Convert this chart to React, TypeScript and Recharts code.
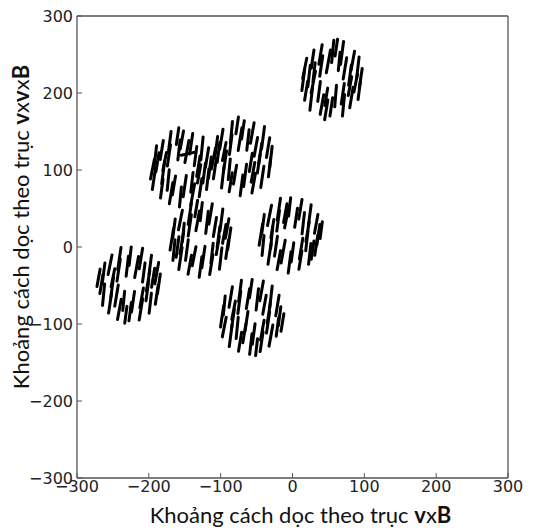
import { ScatterChart, XAxis, YAxis, ReferenceLine } from 'recharts'

const xTicks = [-300, -200, -100, 0, 100, 200, 300]
const yTicks = [-300, -200, -100, 0, 100, 200, 300]

// each vector: [x, y, tilt from vertical in degrees (+ = top leans right), length]
const clusterA = [
  [80, 223, 8, 26], [73, 232, 10, 28], [65, 241, 6, 24], [50, 241, 11, 30],
  [40, 235, 9, 27], [30, 227, 7, 25], [29, 214, 12, 29], [37, 202, 8, 26],
  [47, 195, 10, 23], [60, 196, 5, 28], [70, 199, 9, 27], [80, 209, 11, 25],
  [95, 219, 9, 26], [91, 233, 7, 28], [84, 242, 11, 25], [69, 252, 8, 30],
  [56, 254, 6, 29], [39, 250, 10, 26], [28, 244, 9, 24], [17, 232, 12, 27],
  [15, 217, 8, 28], [19, 203, 10, 25], [26, 192, 7, 29], [41, 185, 11, 26],
  [54, 182, 9, 24], [71, 184, 6, 28], [82, 194, 10, 27], [93, 204, 8, 25],
  [88, 213, 12, 24], [23, 222, 7, 28], [61, 259, 9, 22], [47, 178, 10, 26],
]

const clusterB = [
  [-131, 105, 10, 27], [-135, 118, 8, 25], [-147, 124, 11, 29], [-158, 126, 7, 26],
  [-172, 119, 9, 28], [-178, 111, 12, 24], [-180, 97, 8, 30], [-173, 87, 6, 27],
  [-165, 80, 10, 25], [-150, 79, 9, 28], [-140, 84, 7, 26], [-130, 95, 11, 24],
  [-115, 103, 8, 28], [-119, 116, 10, 26], [-126, 128, 6, 30], [-141, 134, 9, 27],
  [-154, 139, 11, 24], [-171, 136, 8, 28], [-182, 126, 10, 25], [-191, 117, 7, 29],
  [-195, 101, 12, 26], [-193, 88, 9, 27], [-182, 76, 8, 25], [-169, 70, 10, 28],
  [-156, 65, 6, 26], [-139, 68, 11, 29], [-128, 77, 9, 24], [-118, 88, 7, 27],
  [-146, 121, 78, 18], [-188, 110, 10, 25], [-123, 96, 8, 26], [-160, 144, 9, 22],
]

const clusterC = [
  [-45, 121, 9, 28], [-51, 130, 11, 25], [-62, 139, 7, 27], [-73, 140, 10, 30],
  [-86, 133, 8, 26], [-95, 124, 12, 24], [-94, 111, 9, 28], [-88, 101, 6, 27],
  [-80, 94, 10, 25], [-66, 93, 8, 29], [-55, 97, 11, 26], [-47, 108, 9, 24],
  [-30, 117, 7, 28], [-34, 129, 10, 26], [-41, 142, 8, 29], [-56, 148, 11, 27],
  [-69, 152, 9, 24], [-85, 149, 6, 28], [-99, 140, 10, 26], [-106, 131, 8, 25],
  [-110, 115, 12, 28], [-108, 102, 9, 27], [-97, 91, 7, 29], [-86, 84, 10, 25],
  [-71, 80, 8, 27], [-54, 83, 11, 26], [-42, 91, 9, 28], [-32, 103, 7, 24],
  [-58, 110, 10, 24], [-103, 123, 8, 26], [-77, 158, 9, 22],
]

const clusterD = [
  [-103, 13, 8, 27], [-108, 26, 10, 25], [-119, 32, 7, 29], [-132, 34, 11, 26],
  [-143, 28, 9, 28], [-152, 19, 6, 24], [-154, 6, 10, 30], [-147, -4, 8, 27],
  [-137, -12, 12, 25], [-124, -13, 9, 28], [-112, -8, 7, 26], [-104, 2, 10, 24],
  [-88, 11, 9, 28], [-91, 24, 11, 26], [-99, 35, 8, 29], [-114, 43, 10, 27],
  [-127, 46, 7, 24], [-143, 43, 9, 28], [-156, 35, 12, 26], [-165, 24, 8, 25],
  [-168, 10, 10, 28], [-165, -4, 6, 27], [-156, -15, 9, 29], [-143, -23, 11, 25],
  [-128, -26, 8, 27], [-113, -23, 10, 26], [-100, -15, 7, 28], [-91, -3, 9, 24],
  [-95, 17, 11, 25], [-160, 0, 8, 27], [-134, 50, 10, 22],
]

const clusterE = [
  [21, 20, 10, 26], [15, 31, 7, 28], [5, 38, 9, 25], [-8, 39, 12, 29],
  [-20, 34, 8, 27], [-28, 24, 10, 24], [-29, 12, 6, 28], [-23, 1, 9, 26],
  [-13, -6, 11, 30], [0, -7, 8, 25], [12, -2, 10, 27], [20, 8, 7, 26],
  [36, 16, 9, 27], [33, 30, 11, 25], [24, 41, 8, 28], [11, 49, 10, 26],
  [-4, 52, 7, 24], [-19, 49, 9, 29], [-32, 41, 12, 27], [-41, 30, 8, 25],
  [-44, 16, 10, 28], [-41, 2, 6, 26], [-32, -9, 9, 27], [-19, -17, 11, 25],
  [-4, -20, 8, 28], [11, -17, 10, 24], [24, -9, 7, 27], [33, 2, 9, 26],
  [40, 22, 8, 22], [-10, 44, 11, 25], [28, -4, 9, 24],
]

const clusterF = [
  [-33, -86, 9, 27], [-39, -75, 11, 25], [-49, -68, 7, 28], [-62, -67, 10, 26],
  [-74, -72, 8, 29], [-82, -82, 12, 24], [-83, -94, 9, 27], [-77, -105, 6, 28],
  [-67, -112, 10, 25], [-54, -113, 8, 27], [-42, -108, 11, 26], [-34, -98, 9, 28],
  [-18, -90, 8, 25], [-21, -76, 10, 27], [-30, -65, 7, 29], [-43, -57, 11, 26],
  [-58, -54, 9, 24], [-73, -57, 8, 28], [-86, -65, 10, 27], [-95, -76, 6, 25],
  [-98, -90, 9, 28], [-95, -104, 12, 26], [-86, -115, 8, 29], [-73, -123, 10, 25],
  [-58, -126, 7, 27], [-43, -123, 9, 26], [-30, -115, 11, 28], [-21, -104, 8, 24],
  [-14, -98, 10, 23], [-64, -96, 9, 25], [-50, -130, 7, 22],
]

const clusterG = [
  [-201, -44, 10, 27], [-207, -33, 8, 25], [-217, -26, 11, 28], [-230, -25, 7, 26],
  [-242, -30, 9, 29], [-250, -40, 12, 24], [-251, -52, 8, 27], [-245, -63, 10, 28],
  [-235, -70, 6, 25], [-222, -71, 9, 27], [-210, -66, 11, 26], [-202, -56, 8, 28],
  [-186, -48, 9, 26], [-189, -34, 11, 28], [-198, -23, 8, 25], [-211, -15, 10, 27],
  [-226, -12, 7, 24], [-241, -15, 9, 29], [-254, -23, 12, 26], [-263, -34, 8, 27],
  [-266, -48, 10, 25], [-263, -62, 6, 28], [-254, -73, 9, 26], [-241, -81, 11, 27],
  [-226, -84, 8, 24], [-211, -81, 10, 28], [-198, -73, 7, 26], [-189, -62, 9, 25],
  [-270, -40, 11, 23], [-232, -88, 8, 22], [-194, -40, 10, 25],
]

const clusters = [clusterA, clusterB, clusterC, clusterD, clusterE, clusterF, clusterG]

const fmt = (v: number) => (v < 0 ? `\u2212${-v}` : `${v}`)

const segmentOf = ([x, y, tilt, len]: number[]) => {
  const r = (tilt * Math.PI) / 180
  const dx = (len / 2) * Math.sin(r)
  const dy = (len / 2) * Math.cos(r)
  return [
    { x: x - dx, y: y - dy },
    { x: x + dx, y: y + dy },
  ]
}

const axisColor = '#555'
const tickFont = { fontFamily: 'DejaVu Sans', fontSize: 16, fill: '#222' }
const titleFont = 'Lato, "Open Sans", sans-serif'

const XTitle = ({ viewBox }: any) => (
  <text
    x={viewBox.x + viewBox.width / 2 + 8}
    y={viewBox.y + 45}
    textAnchor="middle"
    fontFamily={titleFont}
    fontSize={22}
    fill="#111"
  >
    Khoảng cách dọc theo trục{' '}
    <tspan fontWeight="bold">v</tspan>x<tspan fontWeight="bold">B</tspan>
  </text>
)

const YTitle = ({ viewBox }: any) => {
  const cx = viewBox.x + 20
  const cy = viewBox.y + viewBox.height / 2 - 20
  return (
    <text
      transform={`translate(${cx}, ${cy}) rotate(-90)`}
      textAnchor="middle"
      dominantBaseline="central"
      fontFamily={titleFont}
      fontSize={22}
      fill="#111"
    >
      Khoảng cách dọc theo trục{' '}
      <tspan fontWeight="bold">v</tspan>x<tspan fontWeight="bold">v</tspan>x
      <tspan fontWeight="bold">B</tspan>
    </text>
  )
}

export default function App() {
  return (
    <div style={{ position: 'absolute', left: 0, top: 0, background: '#fff' }}>
      <ScatterChart width={541} height={528} margin={{ top: 15, right: 32, bottom: 0, left: 0 }}>
        <XAxis
          type="number"
          dataKey="x"
          domain={[-300, 300]}
          ticks={xTicks}
          interval={0}
          allowDataOverflow
          tickFormatter={fmt}
          tick={tickFont}
          tickSize={-5}
          tickMargin={8}
          height={50}
          axisLine={{ stroke: axisColor, strokeWidth: 1.3 }}
          tickLine={{ stroke: axisColor }}
          label={{ content: (p: any) => <XTitle {...p} /> }}
        />
        <XAxis
          xAxisId="top"
          orientation="top"
          type="number"
          domain={[-300, 300]}
          ticks={xTicks}
          interval={0}
          allowDataOverflow
          tick={false}
          tickSize={-5}
          height={1}
          axisLine={{ stroke: axisColor, strokeWidth: 1.3 }}
          tickLine={{ stroke: axisColor }}
        />
        <YAxis
          type="number"
          dataKey="y"
          domain={[-300, 300]}
          ticks={yTicks}
          interval={0}
          allowDataOverflow
          tickFormatter={fmt}
          tick={tickFont}
          tickSize={-5}
          tickMargin={9}
          width={77}
          axisLine={{ stroke: axisColor, strokeWidth: 1.3 }}
          tickLine={{ stroke: axisColor }}
          label={{ content: (p: any) => <YTitle {...p} /> }}
        />
        <YAxis
          yAxisId="right"
          orientation="right"
          type="number"
          domain={[-300, 300]}
          ticks={yTicks}
          interval={0}
          allowDataOverflow
          tick={false}
          tickSize={-5}
          width={1}
          axisLine={{ stroke: axisColor, strokeWidth: 1.3 }}
          tickLine={{ stroke: axisColor }}
        />
        {clusters.map((cluster, ci) =>
          cluster.map((v, i) => (
            <ReferenceLine
              key={`${ci}-${i}`}
              segment={segmentOf(v)}
              stroke="#000"
              strokeWidth={3}
              strokeLinecap="round"
              ifOverflow="visible"
            />
          )),
        )}
      </ScatterChart>
    </div>
  )
}
